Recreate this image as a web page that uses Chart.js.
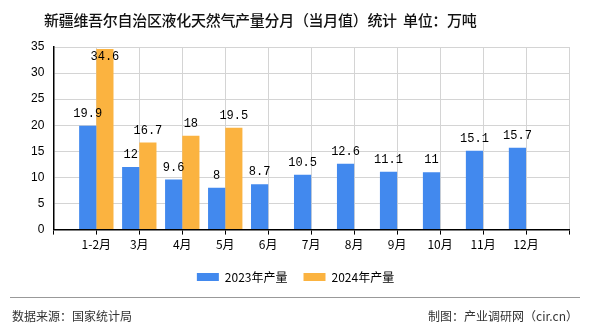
<!DOCTYPE html>
<html>
<head>
<meta charset="utf-8">
<script src="https://cdn.jsdelivr.net/npm/chart.js@4/dist/chart.umd.min.js"></script>
<style>
  html, body { margin: 0; padding: 0; background: #fff; }
  #wrap { position: relative; width: 590px; height: 330px; }
  #title { position: absolute; left: 44px; top: 9px; white-space: nowrap; letter-spacing: -0.3px;
           font: 500 15px "Noto Sans CJK SC", sans-serif; color: #111; }
  #footer { position: absolute; left: 10px; right: 10px; top: 297px; border-top: 1px solid #999;
            font: 12px "Noto Sans CJK SC", sans-serif; color: #333; }
  #footer .l { position: absolute; left: 2px; top: 9px; }
  #footer .r { position: absolute; right: 2px; top: 9px; }
</style>
</head>
<body>
<div id="wrap">
  <canvas id="chart" width="590" height="330"></canvas>
  <div id="title">新疆维吾尔自治区液化天然气产量分月（当月值）统计&nbsp;&nbsp;单位：万吨</div>
  <div id="footer"><span class="l">数据来源：国家统计局</span><span class="r">制图：产业调研网（cir.cn）</span></div>
</div>
<script>
// months on the x axis
const months = ['1-2月', '3月', '4月', '5月', '6月', '7月', '8月', '9月', '10月', '11月', '12月'];
// monthly output, 10k tonnes
const output2023 = [19.9, 12, 9.6, 8, 8.7, 10.5, 12.6, 11.1, 11, 15.1, 15.7];
const output2024 = [34.6, 16.7, 18, 19.5];
const yTicks = [0, 5, 10, 15, 20, 25, 30, 35];

// empty slot at each end so the months sit on grid lines
const labels = [''].concat(months, ['']);
const pad = arr => {
    const out = [null].concat(arr);
    while (out.length < labels.length) out.push(null);
    return out;
};

// draws the value above each bar
const valueLabels = {
    id: 'valueLabels',
    afterDatasetsDraw(chart) {
        const ctx = chart.ctx;
        ctx.save();
        ctx.font = '12px "Liberation Mono", monospace';
        ctx.fillStyle = '#000';
        ctx.textAlign = 'center';
        ctx.textBaseline = 'bottom';
        chart.data.datasets.forEach((ds, i) => {
            chart.getDatasetMeta(i).data.forEach((bar, j) => {
                const v = ds.data[j];
                if (v == null) return;
                let y = bar.y - 6;
                if (y < chart.chartArea.top + 16) y = chart.chartArea.top + 16;
                ctx.fillText(String(v), bar.x, y);
            });
        });
        ctx.restore();
    }
};

new Chart(document.getElementById('chart').getContext('2d'), {
    type: 'bar',
    data: {
        labels: labels,
        datasets: [{
            label: '2023年产量',
            data: pad(output2023),
            backgroundColor: '#4289EE'
        }, {
            label: '2024年产量',
            data: pad(output2024),
            backgroundColor: '#FBB340'
        }]
    },
    options: {
        responsive: false,
        animation: false,
        categoryPercentage: 0.8,
        barPercentage: 1,
        layout: { padding: { left: 22, right: 21, top: 47, bottom: 37 } },
        plugins: {
            title: { display: false },
            legend: {
                position: 'bottom',
                labels: {
                    boxWidth: 22,
                    boxHeight: 8,
                    color: '#000',
                    font: { family: '"Noto Sans CJK SC", sans-serif', size: 12 },
                    padding: 16
                }
            },
            tooltip: { enabled: false }
        },
        scales: {
            x: {
                offset: false,
                grid: { color: '#d4d4d4', offset: false, tickLength: 5, tickColor: '#000' },
                border: { color: '#000', width: 1.5 },
                ticks: {
                    color: '#000',
                    autoSkip: false,
                    maxRotation: 0,
                    padding: 3,
                    font: { family: '"Noto Sans CJK SC", sans-serif', size: 12 }
                }
            },
            y: {
                min: 0,
                max: 35,
                afterBuildTicks: axis => { axis.ticks = yTicks.map(v => ({ value: v })); },
                grid: { color: '#d4d4d4', drawTicks: false },
                border: { color: '#000', width: 1.5 },
                ticks: {
                    color: '#000',
                    padding: 9,
                    font: { family: '"Liberation Sans", sans-serif', size: 12 }
                }
            }
        }
    },
    plugins: [valueLabels]
});
</script>
</body>
</html>
